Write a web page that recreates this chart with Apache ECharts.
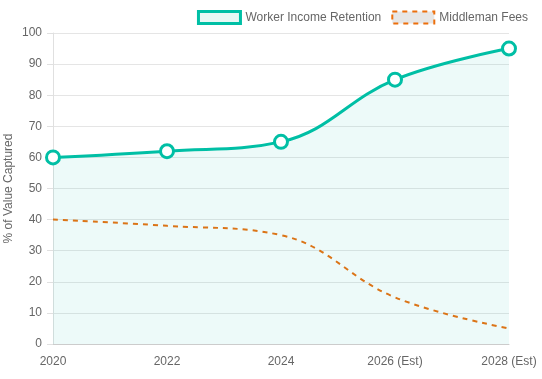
<!DOCTYPE html>
<html><head><meta charset="utf-8">
<script src="https://cdn.jsdelivr.net/npm/echarts@6/dist/echarts.min.js"></script>
<style>html,body{margin:0;padding:0;background:#fff}#c{width:542px;height:379px}</style>
</head><body><div id="c"></div>
<script>
const categories = ['2020', '2022', '2024', '2026 (Est)', '2028 (Est)'];
const workerIncome = [60, 62, 65, 85, 95];
const middlemanFees = [40, 38, 35, 15, 5];
const yTicks = [0, 10, 20, 30, 40, 50, 60, 70, 80, 90, 100];

const teal = '#00bfa5';
const orange = '#ec6f0c';
const font = 'Liberation Sans, Helvetica, Arial, sans-serif';
const chart = echarts.init(document.getElementById('c'));
chart.setOption({
  animation: false,
  textStyle: { fontFamily: font },
  grid: { left: 53, right: 33, top: 33, bottom: 35, containLabel: false, outerBoundsMode: 'none' },
  legend: {
    right: 14, top: 10, itemWidth: 42, itemHeight: 12, itemGap: 10, padding: 0,
    textStyle: { color: '#666', fontSize: 12, fontFamily: font },
    data: [
      { name: 'Worker Income Retention', icon: 'rect',
        itemStyle: { color: '#e8f8f5', borderColor: teal, borderWidth: 3 } },
      { name: 'Middleman Fees', icon: 'rect',
        itemStyle: { color: '#e6e6e6', borderColor: orange, borderWidth: 2, borderType: [5, 5] } }
    ]
  },
  xAxis: {
    type: 'category', data: categories, boundaryGap: false,
    axisLine: { lineStyle: { color: '#ccc' } },
    axisTick: { show: false },
    axisLabel: { color: '#666', fontSize: 12, margin: 12, interval: 0 },
    splitLine: { show: false }
  },
  yAxis: {
    type: 'value', min: yTicks[0], max: yTicks[yTicks.length - 1], interval: 10,
    name: '% of Value Captured', nameLocation: 'middle', nameGap: 38, nameMoveOverlap: false,
    nameTextStyle: { color: '#666', fontSize: 12 },
    axisLine: { show: true, lineStyle: { color: '#e0e0e0' } },
    axisTick: { show: true, length: 6, lineStyle: { color: '#e0e0e0' } },
    axisLabel: { color: '#666', fontSize: 12, margin: 11 },
    splitLine: { lineStyle: { color: 'rgba(0,0,0,0.1)' } }
  },
  series: [
    { name: 'Worker Income Retention', type: 'line', data: workerIncome, smooth: 0.4,
      symbol: 'circle', symbolSize: 13, showAllSymbol: true,
      lineStyle: { color: teal, width: 3 },
      itemStyle: { color: '#fff', borderColor: teal, borderWidth: 3 },
      areaStyle: { color: 'rgba(0,191,165,0.1)', origin: 'start' },
      z: 3 },
    { name: 'Middleman Fees', type: 'line', data: middlemanFees, smooth: 0.4,
      symbol: 'none',
      lineStyle: { color: orange, width: 2, type: [5, 5] },
      itemStyle: { color: orange },
      z: 2 }
  ]
});
</script></body></html>
